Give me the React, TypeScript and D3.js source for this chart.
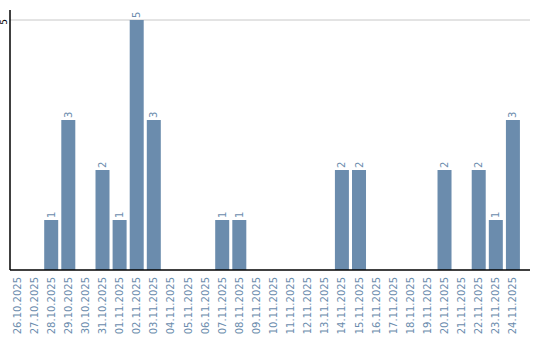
import React from "react";
import * as d3 from "d3";

const dates = [
  "26.10.2025","27.10.2025","28.10.2025","29.10.2025","30.10.2025","31.10.2025",
  "01.11.2025","02.11.2025","03.11.2025","04.11.2025","05.11.2025","06.11.2025",
  "07.11.2025","08.11.2025","09.11.2025","10.11.2025","11.11.2025","12.11.2025",
  "13.11.2025","14.11.2025","15.11.2025","16.11.2025","17.11.2025","18.11.2025",
  "19.11.2025","20.11.2025","21.11.2025","22.11.2025","23.11.2025","24.11.2025",
];
const counts = [0,0,1,3,0,2,1,5,3,0,0,0,1,1,0,0,0,0,0,2,2,0,0,0,0,2,0,2,1,3];
const yTicks = [5];

const W = 540, H = 340;
const left = 10, right = 530, top = 10, bottom = 270;
const color = "#6b8cad";
const font = "DejaVu Sans, sans-serif";

export default function App() {
  const x = d3.scaleBand<string>().domain(dates).range([left, left + 17 * dates.length]).paddingInner(3 / 17).paddingOuter(0).align(0);
  const y = d3.scaleLinear().domain([0, 5]).range([bottom, 20]);
  return (
    <svg width={W} height={H} style={{ position: "absolute", left: 0, top: 0 }}>
      {yTicks.map((t) => (
        <g key={t}>
          <line x1={left} x2={right} y1={y(t)} y2={y(t)} stroke="#c8c8c8" strokeWidth={1} />
          <text transform={`translate(7,${y(t) + 2}) rotate(-90)`} textAnchor="middle" fontFamily={font} fontSize={9} fill="#000">{t}</text>
        </g>
      ))}
      {dates.map((d, i) => {
        const v = counts[i];
        const bx = x(d)!;
        const bw = 14;
        return (
          <g key={d}>
            {v > 0 && (
              <>
                <rect x={bx} y={y(v)} width={bw} height={bottom - y(v)} fill={color} />
                <text transform={`translate(${bx + bw / 2 + 3.5},${y(v) - 2}) rotate(-90)`} textAnchor="start" fontFamily={font} fontSize={10} fill={color}>{v}</text>
              </>
            )}
            <text transform={`translate(${bx + bw / 2 + 3.5},${bottom + 7}) rotate(-90)`} textAnchor="end" fontFamily={font} fontSize={10} fill={color}>{d}</text>
          </g>
        );
      })}
      <line x1={left} x2={left} y1={top} y2={bottom} stroke="#000" strokeWidth={1.5} />
      <line x1={left} x2={right} y1={bottom} y2={bottom} stroke="#000" strokeWidth={1.5} />
    </svg>
  );
}
